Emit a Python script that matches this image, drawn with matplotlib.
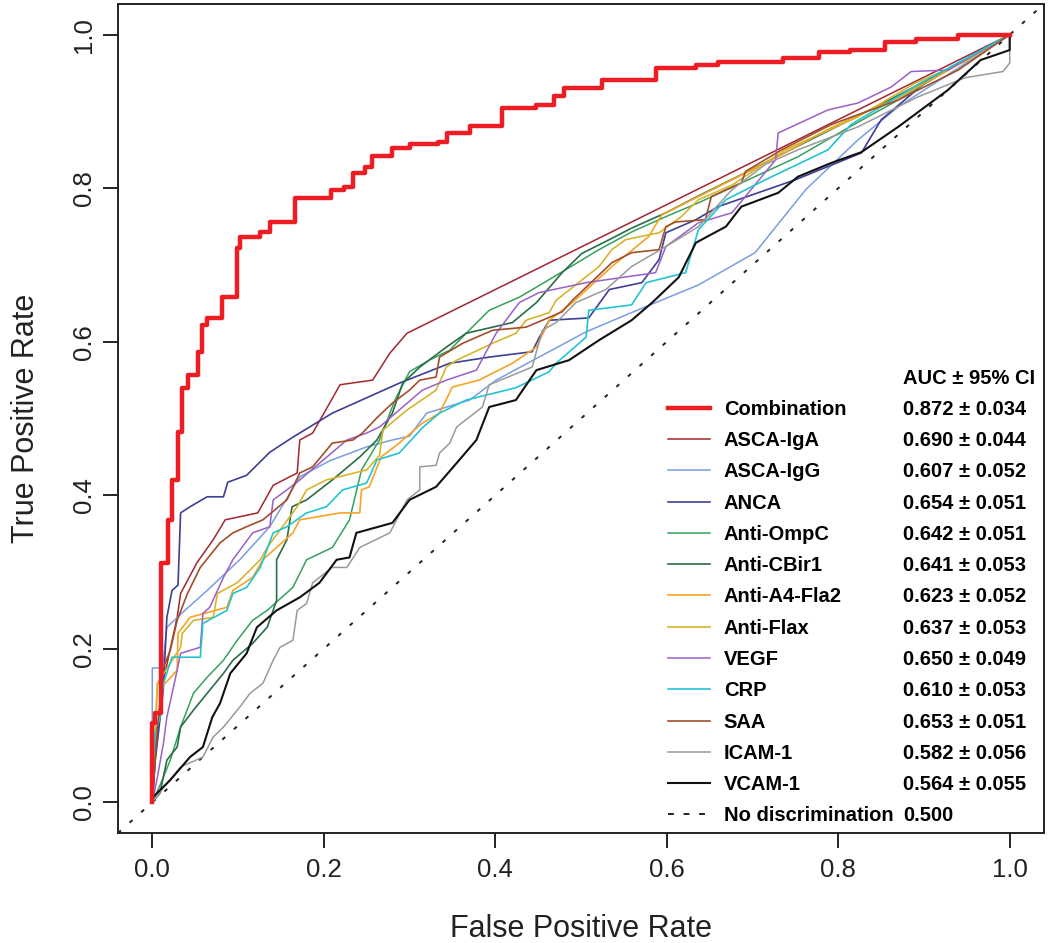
import matplotlib
matplotlib.use('Agg')
import matplotlib.pyplot as plt
from matplotlib.lines import Line2D

plt.rcParams['font.family'] = ['Liberation Sans', 'DejaVu Sans']

# ---------------- data (FPR, TPR) ----------------
names = ['Combination', 'ASCA-IgA', 'ASCA-IgG', 'ANCA', 'Anti-OmpC', 'Anti-CBir1',
         'Anti-A4-Fla2', 'Anti-Flax', 'VEGF', 'CRP', 'SAA', 'ICAM-1', 'VCAM-1']
auc_labels = ['0.872 \u00b1 0.034', '0.690 \u00b1 0.044', '0.607 \u00b1 0.052', '0.654 \u00b1 0.051',
              '0.642 \u00b1 0.051', '0.641 \u00b1 0.053', '0.623 \u00b1 0.052', '0.637 \u00b1 0.053',
              '0.650 \u00b1 0.049', '0.610 \u00b1 0.053', '0.653 \u00b1 0.051', '0.582 \u00b1 0.056',
              '0.564 \u00b1 0.055']
ref_name = 'No discrimination'
ref_auc = '0.500'
header = 'AUC \u00b1 95% CI'

comb_fpr = [0, 0, 0.0035, 0.0105, 0.0186, 0.0233, 0.030, 0.035, 0.042, 0.053, 0.058, 0.064, 0.081,
            0.099, 0.102, 0.126, 0.137, 0.166, 0.209, 0.224, 0.234, 0.248, 0.256, 0.279, 0.300,
            0.333, 0.344, 0.370, 0.408, 0.448, 0.469, 0.480, 0.524, 0.587, 0.634, 0.660, 0.736,
            0.777, 0.814, 0.855, 0.891, 0.940, 1.0]
comb_tpr = [0, 0.103, 0.116, 0.312, 0.368, 0.420, 0.482, 0.540, 0.557, 0.587, 0.622, 0.631, 0.658,
            0.722, 0.737, 0.743, 0.756, 0.787, 0.798, 0.802, 0.820, 0.828, 0.842, 0.853, 0.857,
            0.860, 0.872, 0.881, 0.904, 0.909, 0.920, 0.930, 0.941, 0.957, 0.961, 0.965, 0.970,
            0.977, 0.980, 0.990, 0.994, 1.0, 1.0]

igA_fpr = [0, 0.004, 0.013, 0.029, 0.033, 0.052, 0.071, 0.085, 0.123, 0.141, 0.169, 0.172, 0.187,
           0.219, 0.257, 0.277, 0.297, 1.0]
igA_tpr = [0, 0.070, 0.159, 0.241, 0.272, 0.312, 0.342, 0.368, 0.377, 0.413, 0.429, 0.472, 0.481,
           0.544, 0.550, 0.585, 0.611, 1.0]

igG_fpr = [0, 0, 0.012, 0.017, 0.036, 0.064, 0.102, 0.137, 0.172, 0.207, 0.250, 0.280, 0.300,
           0.320, 0.370, 0.401, 0.451, 0.506, 0.559, 0.637, 0.703, 0.762, 0.823, 0.870, 1.0]
igG_tpr = [0, 0.175, 0.175, 0.228, 0.248, 0.276, 0.316, 0.359, 0.424, 0.445, 0.463, 0.472, 0.477,
           0.507, 0.524, 0.550, 0.580, 0.613, 0.638, 0.674, 0.716, 0.798, 0.863, 0.906, 1.0]

anca_fpr = [0, 0.0035, 0.0128, 0.017, 0.023, 0.030, 0.033, 0.044, 0.064, 0.083, 0.088, 0.110, 0.137,
            0.163, 0.210, 0.288, 0.347, 0.393, 0.443, 0.451, 0.463, 0.509, 0.533, 0.571, 0.591,
            0.599, 0.634, 0.660, 0.750, 0.827, 0.850, 0.905, 1.0]
anca_tpr = [0, 0.055, 0.146, 0.241, 0.276, 0.283, 0.377, 0.385, 0.398, 0.398, 0.417, 0.426, 0.456,
            0.475, 0.507, 0.546, 0.572, 0.580, 0.587, 0.605, 0.628, 0.631, 0.668, 0.677, 0.707,
            0.742, 0.759, 0.776, 0.811, 0.846, 0.889, 0.941, 1.0]

ompc_fpr = [0, 0.009, 0.021, 0.033, 0.048, 0.064, 0.083, 0.099, 0.117, 0.134, 0.164, 0.180, 0.210,
            0.230, 0.244, 0.265, 0.283, 0.300, 0.323, 0.347, 0.366, 0.393, 0.428, 0.463, 0.521,
            0.559, 0.599, 0.637, 0.695, 0.753, 0.812, 0.870, 0.928, 1.0]
ompc_tpr = [0, 0.022, 0.055, 0.098, 0.142, 0.163, 0.185, 0.211, 0.237, 0.250, 0.280, 0.316, 0.332,
            0.368, 0.433, 0.472, 0.524, 0.561, 0.576, 0.589, 0.611, 0.641, 0.658, 0.681, 0.720,
            0.743, 0.763, 0.781, 0.811, 0.841, 0.879, 0.915, 0.954, 1.0]

cbir_fpr = [0, 0.009, 0.017, 0.029, 0.033, 0.048, 0.064, 0.083, 0.094, 0.117, 0.134, 0.145, 0.145,
            0.157, 0.163, 0.180, 0.210, 0.242, 0.262, 0.280, 0.292, 0.312, 0.343, 0.366, 0.420,
            0.448, 0.478, 0.501, 0.533, 0.559, 0.599, 0.637, 0.695, 0.753, 0.812, 0.870, 0.928, 1.0]
cbir_tpr = [0, 0.012, 0.055, 0.072, 0.098, 0.120, 0.142, 0.168, 0.185, 0.207, 0.228, 0.263, 0.316,
            0.342, 0.385, 0.394, 0.420, 0.450, 0.472, 0.507, 0.546, 0.567, 0.593, 0.611, 0.625,
            0.651, 0.690, 0.715, 0.733, 0.748, 0.768, 0.790, 0.822, 0.855, 0.888, 0.921, 0.955, 1.0]

a4_fpr = [0, 0.0035, 0.006, 0.015, 0.029, 0.030, 0.044, 0.087, 0.094, 0.117, 0.129, 0.164, 0.172,
          0.219, 0.242, 0.244, 0.253, 0.267, 0.288, 0.315, 0.335, 0.350, 0.381, 0.420, 0.448,
          0.463, 0.490, 0.536, 0.579, 0.594, 0.617, 0.676, 0.734, 0.792, 0.870, 0.940, 1.0]
a4_tpr = [0, 0.090, 0.155, 0.155, 0.172, 0.220, 0.241, 0.254, 0.276, 0.293, 0.316, 0.351, 0.368,
          0.377, 0.377, 0.407, 0.411, 0.450, 0.468, 0.494, 0.507, 0.541, 0.550, 0.572, 0.593,
          0.628, 0.651, 0.698, 0.737, 0.765, 0.778, 0.811, 0.844, 0.879, 0.918, 0.961, 1.0]

flax_fpr = [0, 0.001, 0.006, 0.033, 0.035, 0.048, 0.071, 0.076, 0.099, 0.126, 0.134, 0.169, 0.180,
            0.203, 0.250, 0.265, 0.269, 0.297, 0.331, 0.343, 0.355, 0.397, 0.424, 0.436, 0.463,
            0.471, 0.521, 0.536, 0.552, 0.591, 0.617, 0.637, 0.676, 0.738, 0.823, 0.890, 0.948, 1.0]
flax_tpr = [0, 0.046, 0.155, 0.202, 0.220, 0.237, 0.241, 0.272, 0.286, 0.316, 0.332, 0.385, 0.407,
            0.420, 0.433, 0.452, 0.485, 0.511, 0.537, 0.567, 0.576, 0.598, 0.611, 0.628, 0.638,
            0.654, 0.698, 0.720, 0.733, 0.742, 0.763, 0.785, 0.804, 0.850, 0.893, 0.937, 0.965, 1.0]

vegf_fpr = [0, 0.006, 0.013, 0.017, 0.029, 0.033, 0.056, 0.059, 0.067, 0.083, 0.094, 0.117, 0.137,
            0.141, 0.157, 0.172, 0.227, 0.250, 0.265, 0.315, 0.343, 0.378, 0.401, 0.428, 0.451,
            0.506, 0.587, 0.599, 0.637, 0.676, 0.727, 0.730, 0.788, 0.823, 0.862, 0.885, 0.928, 1.0]
vegf_tpr = [0, 0.033, 0.077, 0.111, 0.172, 0.194, 0.202, 0.246, 0.254, 0.293, 0.316, 0.351, 0.359,
            0.394, 0.407, 0.420, 0.472, 0.481, 0.489, 0.537, 0.550, 0.563, 0.611, 0.651, 0.664,
            0.677, 0.690, 0.724, 0.755, 0.768, 0.837, 0.872, 0.902, 0.911, 0.932, 0.952, 0.954, 1.0]

crp_fpr = [0, 0.001, 0.0035, 0.009, 0.013, 0.023, 0.056, 0.059, 0.087, 0.094, 0.110, 0.126, 0.141,
           0.157, 0.180, 0.203, 0.222, 0.250, 0.262, 0.288, 0.315, 0.335, 0.366, 0.424, 0.463,
           0.471, 0.506, 0.509, 0.559, 0.576, 0.622, 0.637, 0.669, 0.715, 0.788, 0.815, 0.893, 1.0]
crp_tpr = [0, 0.046, 0.090, 0.111, 0.155, 0.189, 0.189, 0.233, 0.250, 0.272, 0.280, 0.306, 0.351,
           0.359, 0.377, 0.385, 0.407, 0.416, 0.446, 0.455, 0.488, 0.507, 0.524, 0.540, 0.561,
           0.572, 0.606, 0.641, 0.648, 0.677, 0.690, 0.746, 0.785, 0.811, 0.850, 0.883, 0.935, 1.0]

saa_fpr = [0, 0.006, 0.013, 0.021, 0.029, 0.041, 0.056, 0.079, 0.094, 0.110, 0.129, 0.157, 0.172,
           0.187, 0.210, 0.234, 0.245, 0.262, 0.280, 0.300, 0.312, 0.331, 0.335, 0.362, 0.397,
           0.436, 0.455, 0.478, 0.490, 0.536, 0.559, 0.591, 0.599, 0.610, 0.645, 0.652, 0.687,
           0.692, 0.734, 0.792, 0.870, 0.940, 1.0]
saa_tpr = [0, 0.098, 0.176, 0.198, 0.237, 0.272, 0.306, 0.338, 0.351, 0.359, 0.368, 0.394, 0.429,
           0.437, 0.468, 0.472, 0.481, 0.501, 0.520, 0.537, 0.550, 0.554, 0.580, 0.598, 0.615,
           0.619, 0.628, 0.639, 0.654, 0.703, 0.716, 0.720, 0.750, 0.756, 0.759, 0.789, 0.807,
           0.822, 0.850, 0.883, 0.915, 0.954, 1.0]

icam_fpr = [0, 0.015, 0.033, 0.059, 0.071, 0.083, 0.102, 0.114, 0.129, 0.141, 0.149, 0.164, 0.169,
            0.180, 0.187, 0.210, 0.227, 0.242, 0.253, 0.277, 0.285, 0.297, 0.312, 0.312, 0.331,
            0.335, 0.347, 0.355, 0.385, 0.393, 0.443, 0.455, 0.471, 0.494, 0.529, 0.559, 0.599,
            0.637, 0.676, 0.715, 0.753, 0.823, 0.893, 0.948, 0.992, 1.0, 1.0]
icam_tpr = [0, 0.022, 0.046, 0.059, 0.085, 0.098, 0.124, 0.142, 0.155, 0.185, 0.202, 0.211, 0.250,
            0.259, 0.286, 0.306, 0.306, 0.332, 0.338, 0.351, 0.368, 0.394, 0.407, 0.437, 0.439,
            0.455, 0.468, 0.489, 0.515, 0.544, 0.567, 0.615, 0.625, 0.651, 0.668, 0.698, 0.724,
            0.750, 0.798, 0.831, 0.850, 0.880, 0.919, 0.944, 0.952, 0.963, 1.0]

vcam_fpr = [0, 0.001, 0.021, 0.044, 0.059, 0.070, 0.079, 0.091, 0.110, 0.122, 0.145, 0.172, 0.195,
            0.215, 0.230, 0.238, 0.280, 0.300, 0.331, 0.355, 0.378, 0.393, 0.424, 0.448, 0.486,
            0.521, 0.559, 0.583, 0.614, 0.634, 0.669, 0.687, 0.730, 0.753, 0.792, 0.827, 0.870,
            0.928, 0.966, 1.0, 1.0]
vcam_tpr = [0, 0.007, 0.029, 0.059, 0.072, 0.111, 0.129, 0.168, 0.194, 0.228, 0.250, 0.267, 0.286,
            0.316, 0.319, 0.351, 0.364, 0.394, 0.411, 0.442, 0.472, 0.515, 0.524, 0.563, 0.576,
            0.602, 0.628, 0.651, 0.684, 0.729, 0.750, 0.776, 0.794, 0.815, 0.833, 0.847, 0.880,
            0.928, 0.967, 0.980, 1.0]

curves_fpr = [comb_fpr, igA_fpr, igG_fpr, anca_fpr, ompc_fpr, cbir_fpr, a4_fpr, flax_fpr,
              vegf_fpr, crp_fpr, saa_fpr, icam_fpr, vcam_fpr]
curves_tpr = [comb_tpr, igA_tpr, igG_tpr, anca_tpr, ompc_tpr, cbir_tpr, a4_tpr, flax_tpr,
              vegf_tpr, crp_tpr, saa_tpr, icam_tpr, vcam_tpr]

colors = ['#EE1D23', '#A3262E', '#7A9DE0', '#3D3F96', '#35A15C', '#2A6E47', '#F7A325',
          '#D6B52E', '#9B5FC8', '#22C4D4', '#A34E2A', '#9A9A9A', '#111111']
widths = [3.2, 1.1, 1.1, 1.2, 1.1, 1.2, 1.2, 1.2, 1.1, 1.2, 1.2, 1.1, 1.5]
xticks = [0.0, 0.2, 0.4, 0.6, 0.8, 1.0]
tick_labels = ['0.0', '0.2', '0.4', '0.6', '0.8', '1.0']

# ---------------- figure ----------------
fig = plt.figure(figsize=(10.5, 9.43), dpi=100)
ax = fig.add_axes([118 / 1050, 110 / 943, 926 / 1050, 829 / 943])
ax.set_xlim(-0.04, 1.04)
ax.set_ylim(-0.04, 1.04)

diag_style = (0, (2, 6))
ax.axline((0, 0), slope=1, color='#222222', lw=1.4, linestyle=diag_style, zorder=1)

for i in range(1, len(names)):
    ax.plot(curves_fpr[i], curves_tpr[i], color=colors[i], lw=widths[i], zorder=2 + i * 0.01)
ax.plot(curves_fpr[0], curves_tpr[0], color=colors[0], lw=widths[0], drawstyle='steps-post',
        zorder=3)

handles = [Line2D([], [], color=colors[i], lw=widths[i]) for i in range(len(names))]
ref_handle = Line2D([], [], color='#222222', lw=1.4, linestyle=(0, (3, 5)))
blank = Line2D([], [], color='none')

ax.set_xticks(xticks)
ax.set_xticklabels(tick_labels)
ax.set_yticks(xticks)
ax.set_yticklabels(tick_labels, rotation=90, va='center')
ax.tick_params(axis='both', length=10.8, width=1.4, labelsize=18.5, colors='#222222')
ax.tick_params(axis='x', pad=7)
ax.tick_params(axis='y', pad=5)
for s in ax.spines.values():
    s.set_linewidth(1.4)
    s.set_color('#222222')

ax.set_xlabel('False Positive Rate', fontsize=22, labelpad=23, color='#222222')
ax.set_ylabel('True Positive Rate', fontsize=22, labelpad=22, color='#222222')

leg_kw = dict(loc='center left', bbox_transform=fig.transFigure, frameon=False, borderpad=0,
              borderaxespad=0, labelspacing=0.61, prop={'size': 14.5, 'weight': 'bold'})
leg1 = ax.legend([blank] + handles + [ref_handle], [' '] + names + [ref_name],
                 bbox_to_anchor=(668 / 1050, 1 - 597 / 943), handlelength=2.08,
                 handletextpad=0.69, **leg_kw)
ax.add_artist(leg1)
vals_handles = [blank] * (len(names) + 2)
leg2 = ax.legend(vals_handles, [header] + auc_labels + [ref_auc],
                 bbox_to_anchor=(903 / 1050, 1 - 597 / 943), handlelength=0,
                 handletextpad=0, **leg_kw)

fig.savefig('out.png', dpi=100)
